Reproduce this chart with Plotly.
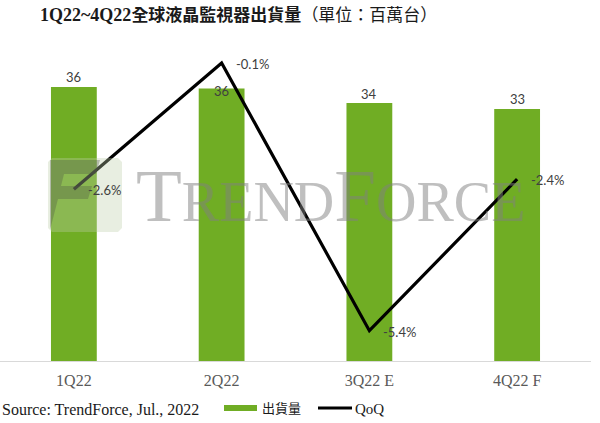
import plotly.graph_objects as go

# ---- data ----
categories = ["1Q22", "2Q22", "3Q22 E", "4Q22 F"]
shipments = [36.1, 35.9, 34.0, 33.2]          # million units
shipment_labels = ["36", "36", "34", "33"]
qoq = [-2.6, -0.1, -5.4, -2.4]                 # QoQ %
qoq_labels = ["-2.6%", "-0.1%", "-5.4%", "-2.4%"]

title_text = "<b><span style='font-size:18px'>1Q22~4Q22</span>全球液晶監視器出貨量</b>（單位：百萬台）"
source_text = "Source: TrendForce, Jul., 2022"
legend_bar = "出貨量"
legend_line = "QoQ"

# ---- style / layout ----
GREEN = "#70AD24"
W, H = 600, 423
ML, MR, MT, MB = 0, 9, 40, 62
PW, PH = W - ML - MR, H - MT - MB

bar_label_dy = [10, -2, 9, 10]


def px(x):
    return (x - ML) / PW


def py(y):
    return (H - MB - y) / PH


def path(points):
    s = "M " + " L ".join(f"{px(a):.4f},{py(b):.4f}" for a, b in points) + " Z"
    return s


fig = go.Figure()
fig.add_trace(go.Bar(
    x=categories, y=shipments, marker=dict(color=GREEN, line=dict(width=0)),
    width=0.31, yaxis="y", hoverinfo="skip", showlegend=False,
))
fig.add_trace(go.Scatter(
    x=categories, y=qoq, mode="lines", yaxis="y2",
    line=dict(color="black", width=3.2), hoverinfo="skip", showlegend=False,
))

annotations = []
for c, v, t, dy in zip(categories, shipments, shipment_labels, bar_label_dy):
    annotations.append(dict(x=c, y=v, xref="x", yref="y", text=t, showarrow=False,
                            yanchor="middle", yshift=dy,
                            font=dict(family="Lato, Open Sans, sans-serif", size=13, color="#404040")))
for c, v, t in zip(categories, qoq, qoq_labels):
    annotations.append(dict(x=c, y=v, xref="x", yref="y2", text=t, showarrow=False,
                            xanchor="left", yanchor="middle", xshift=12, yshift=-1,
                            font=dict(family="Lato, Open Sans, sans-serif", size=13, color="#404040")))

# watermark text
annotations.append(dict(
    x=px(330), y=py(195), xref="paper", yref="paper", showarrow=False,
    xanchor="center", yanchor="middle", opacity=0.5,
    text="<span style='font-size:75px'>T</span>REND<span style='font-size:75px'>F</span>ORCE",
    font=dict(family="Liberation Serif, serif", size=56, color="#808080"),
))

# source and legend texts
annotations.append(dict(x=px(0), y=py(410), xref="paper", yref="paper", showarrow=False,
                        xanchor="left", yanchor="middle", text=source_text,
                        font=dict(family="Liberation Serif, serif", size=16, color="#1a1a1a")))
annotations.append(dict(x=px(260), y=py(408), xref="paper", yref="paper", showarrow=False,
                        xanchor="left", yanchor="middle", text=legend_bar,
                        font=dict(family="Noto Sans CJK TC, sans-serif", size=13, color="#1a1a1a")))
annotations.append(dict(x=px(353), y=py(409), xref="paper", yref="paper", showarrow=False,
                        xanchor="left", yanchor="middle", text=legend_line,
                        font=dict(family="Liberation Serif, serif", size=15, color="#1a1a1a")))

shapes = [
    # legend keys
    dict(type="rect", xref="paper", yref="paper", x0=px(224), x1=px(257), y0=py(411), y1=py(405),
         fillcolor=GREEN, line=dict(width=0)),
    dict(type="line", xref="paper", yref="paper", x0=px(318), x1=px(352), y0=py(408), y1=py(408),
         line=dict(color="black", width=3)),
    # watermark logo (approximate)
    dict(type="path", xref="paper", yref="paper",
         path=path([(52, 158), (118, 158), (122, 162), (122, 228), (118, 232), (52, 232), (48, 228), (48, 162)]),
         fillcolor="rgba(190,205,170,0.35)", line=dict(width=0), layer="above"),
    dict(type="path", xref="paper", yref="paper",
         path=path([(50, 160), (100, 160), (96, 174), (64, 174), (61, 186), (92, 186), (88, 199), (58, 199), (50, 230)]),
         fillcolor="rgba(80,90,70,0.35)", line=dict(width=0), layer="above"),
]

fig.update_layout(
    width=W, height=H,
    margin=dict(l=ML, r=MR, t=MT, b=MB),
    paper_bgcolor="white", plot_bgcolor="white",
    title=dict(text=title_text, x=40 / W, xanchor="left", y=1 - 15 / H, yanchor="middle",
               font=dict(family="Liberation Serif, Noto Sans CJK TC, serif", size=17, color="#1a1a1a")),
    xaxis=dict(type="category", range=[-0.5, 3.5], showline=True, linecolor="#d9d9d9", linewidth=1,
               ticks="", showgrid=False, zeroline=False, ticklabelstandoff=5,
               tickfont=dict(family="Liberation Serif, serif", size=16, color="#595959")),
    yaxis=dict(range=[0, 42.29], visible=False, showgrid=False, zeroline=False),
    yaxis2=dict(range=[-6.0, 0.356], overlaying="y", visible=False, showgrid=False, zeroline=False),
    annotations=annotations,
    shapes=shapes,
    showlegend=False,
)

fig.write_html("out.html", config={"displayModeBar": False},
               post_script="document.body.style.margin='0';document.body.style.overflow='hidden';")
